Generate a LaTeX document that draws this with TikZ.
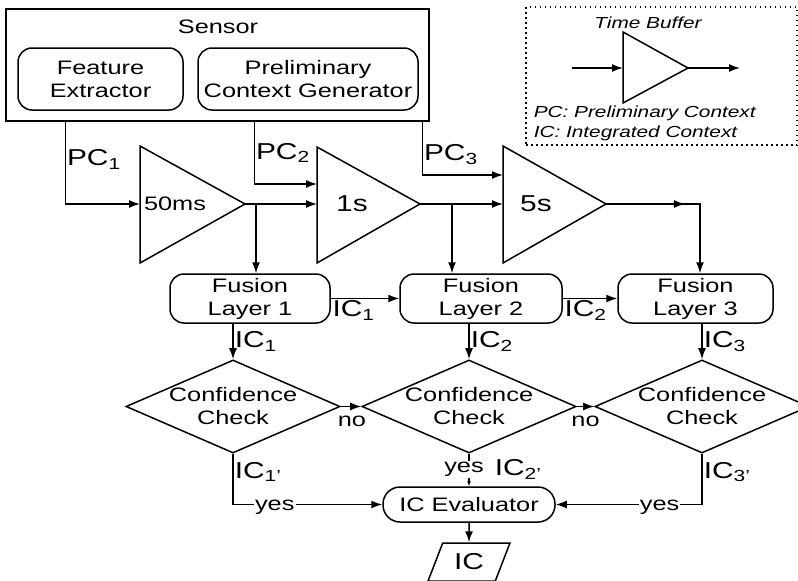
\documentclass[tikz,border=0pt]{standalone}
\usepackage{fontspec}
\setmainfont{Liberation Sans}[FakeStretch=1.3]
\usetikzlibrary{arrows.meta,calc,positioning,shapes.geometric}

\begin{document}
\begin{tikzpicture}[x=1pt,y=-1pt,line width=1.5pt,>={Latex[length=11pt,width=8pt]},
  box/.style={draw,rounded corners=14pt,align=center,inner sep=0pt,font=\fontsize{19.5}{23}\selectfont},
  check/.style={draw,diamond,aspect=2.3,inner sep=0pt,minimum width=204,minimum height=89,align=center,font=\fontsize{19.5}{23}\selectfont},
  lbl/.style={font=\fontsize{23}{25}\selectfont,inner sep=1pt},
  txt/.style={font=\fontsize{19.5}{21}\selectfont,inner sep=1pt},
  online/.style={txt,fill=white,anchor=base,yshift=-6pt},
  note/.style={font=\fontsize{16}{18}\selectfont\itshape,inner sep=0pt}]
\useasboundingbox (0,0) rectangle (798,581);

% sensor
\node[draw,minimum width=423,minimum height=112,inner sep=0pt] (sensor) at (217.5,65) {};
\node[txt] (sensortxt) at (218,27) {Sensor};
\node[box,minimum width=165,minimum height=62] (fe) at (100.5,79) {Feature\\Extractor};
\node[box,minimum width=220,minimum height=62] (pcg) at (308,79) {Preliminary\\Context Generator};

% time buffers
\draw (140,146) -- (245,204) coordinate(t1o) -- (140,263) -- cycle;
\coordinate (t1i) at (140,204);
\node[txt] (b1) at (175,204) {50ms};
\draw (317,147) -- (420,204) coordinate(t2o) -- (317,263) -- cycle;
\coordinate (t2i) at (317,204);
\coordinate (t2p) at (317,184);
\node[lbl] (b2) at (352,204) {1s};
\draw (503,146) -- (606,204) coordinate(t3o) -- (503,263) -- cycle;
\coordinate (t3i) at (503,204);
\coordinate (t3p) at (503,175);
\node[lbl] (b3) at (536,204) {5s};

\draw[->] ([xshift=60pt]sensor.south west) |- node[pos=0.23,right,lbl] {PC\textsubscript{1}} (t1i);
\draw[->] ([xshift=249pt]sensor.south west) |- node[pos=0.25,right,lbl] {PC\textsubscript{2}} (t2p);
\draw[->] ([xshift=417pt]sensor.south west) |- node[pos=0.31,right,lbl] {PC\textsubscript{3}} (t3p);

% fusion layers
\node[box,minimum width=160,minimum height=49] (fl1) at (250,298.5) {Fusion\\Layer 1};
\node[box,minimum width=162,minimum height=49] (fl2) at (481,298.5) {Fusion\\Layer 2};
\node[box,minimum width=155,minimum height=49] (fl3) at (695.5,298.5) {Fusion\\Layer 3};

\coordinate (j1) at (256,204);
\coordinate (j2) at (452,204);
\coordinate (j3) at (700,204);
\draw[->] (t1o) -- (t2i);
\draw[->] (j1) -- (j1 |- fl1.north);
\draw[->] (t2o) -- (t3i);
\draw[->] (j2) -- (j2 |- fl2.north);
\draw[->] (t3o) -- ($(t3o)!0.84!(j3)$);
\draw[->] (t3o) -- (j3) -- (j3 |- fl3.north);

\draw[->] (fl1.east) -- node[pos=0,below right,lbl] {IC\textsubscript{1}} (fl2.west);
\draw[->] (fl2.east) -- node[pos=0,below right,lbl] {IC\textsubscript{2}} (fl3.west);

% confidence checks
\node[check] (cc1) at (233,406.5) {Confidence\\Check};
\node[check,minimum width=196] (cc2) at (469,406.5) {Confidence\\Check};
\node[check,minimum width=196] (cc3) at (702,406.5) {Confidence\\Check};

\draw[->] (fl1.south -| cc1.north) -- node[right,lbl] {IC\textsubscript{1}} (cc1.north);
\draw[->] (fl2.south -| cc2.north) -- node[right,lbl] {IC\textsubscript{2}} (cc2.north);
\draw[->] (fl3.south -| cc3.north) -- node[right,lbl] {IC\textsubscript{3}} (cc3.north);
\draw[->] (cc1.east) -- node[txt,anchor=base,yshift=-20pt,xshift=1pt] {no} (cc2.west);
\draw[->] (cc2.east) -- node[txt,anchor=base,yshift=-20pt] {no} (cc3.west);

% evaluator
\node[box,rounded corners=17pt,minimum width=172,minimum height=35] (ice) at (469,504.5) {IC Evaluator};
\node[draw,trapezium,trapezium left angle=64,trapezium right angle=116,trapezium stretches=true,inner sep=1pt,minimum width=82,minimum height=38,lbl] (ic) at (469,562) {IC};

\draw[->] (cc1.south) |- node[pos=0.64,online] {yes} node[pos=0.18,right,lbl] {IC\textsubscript{1'}} (ice.west);
\draw[->,>={Latex[length=5pt,width=4pt]}] (cc2.south) -- node[pos=0.48,xshift=-5pt,fill=white,txt] {yes} node[pos=0.48,anchor=west,xshift=24pt,lbl] {IC\textsubscript{2'}} (ice.north);
\draw[->] (cc3.south) |- node[pos=0.645,online] {yes} node[pos=0.18,right,lbl] {IC\textsubscript{3'}} (ice.east);
\draw[->] (ice.south) -- (ic.north);

% legend
\node[draw,dash pattern=on 1.5pt off 3.5pt,minimum width=271,minimum height=138,inner sep=0pt] (legend) at (661.5,76) {};
\draw (623,32) -- (688,68) coordinate(lo) -- (623,103) -- cycle;
\coordinate (li) at (623,68);
\coordinate (lin) at (572,68);
\coordinate (lout) at (740,68);
\draw[->] (lin) -- (li);
\draw[->] (lo) -- (lout);
\node[note] (ltitle) at (648,23) {Time Buffer};
\node[note,anchor=west] (lpc) at (533,113) {PC: Preliminary Context};
\node[note,anchor=west] (lic) at (533,133) {IC: Integrated Context};
\end{tikzpicture}
\end{document}
